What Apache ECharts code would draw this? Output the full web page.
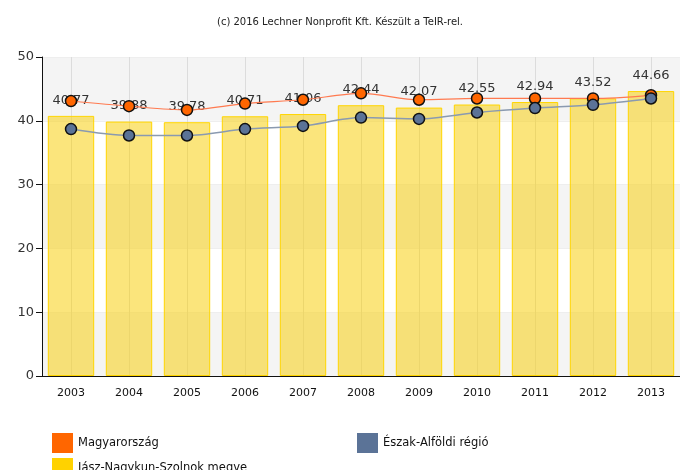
<!DOCTYPE html>
<html>
<head>
<meta charset="utf-8">
<script src="https://cdn.jsdelivr.net/npm/echarts@6/dist/echarts.min.js"></script>
<style>html,body{margin:0;padding:0;background:#fff}#c{width:680px;height:470px}</style>
</head>
<body>
<div id="c"></div>
<script>
const years = ['2003','2004','2005','2006','2007','2008','2009','2010','2011','2012','2013'];
const megye = [40.77, 39.88, 39.78, 40.71, 41.06, 42.44, 42.07, 42.55, 42.94, 43.52, 44.66];
const orszag = [43.1, 42.3, 41.7, 42.7, 43.3, 44.3, 43.3, 43.5, 43.5, 43.5, 44.0];
const regio = [38.7, 37.7, 37.7, 38.7, 39.2, 40.5, 40.3, 41.3, 42.0, 42.5, 43.5];
const yTicks = [0, 10, 20, 30, 40, 50];

const nameOrszag = 'Magyarország';
const nameRegio = 'Észak-Alföldi régió';
const nameMegye = 'Jász-Nagykun-Szolnok megye';

// half-width slots so that vertical grid lines fall on the year centres
const halfSlots = years.flatMap(y => [y + 'a', y + 'b']);

const font = 'DejaVu Sans';
const chart = echarts.init(document.getElementById('c'));
const legendBase = {
  icon: 'rect', itemWidth: 21, itemHeight: 20, itemGap: 10,
  textStyle: { fontFamily: font, fontSize: 11.5, color: '#111' }
};
const legendItem = (name, color) => ({ name, itemStyle: { color, borderWidth: 0, opacity: 1 } });
chart.setOption({
  animation: false,
  title: {
    text: '(c) 2016 Lechner Nonprofit Kft. Készült a TeIR-rel.',
    left: 'center', top: 12,
    textStyle: { fontFamily: font, fontSize: 10, fontWeight: 'normal', color: '#222' }
  },
  legend: [
    Object.assign({ data: [legendItem(nameOrszag, '#ff6600')], left: 47, top: 428 }, legendBase),
    Object.assign({ data: [legendItem(nameRegio, '#5b7397')], left: 352, top: 428 }, legendBase),
    Object.assign({ data: [legendItem(nameMegye, '#ffd200')], left: 47, top: 453 }, legendBase)
  ],
  grid: { left: 42, right: 0, top: 57, bottom: 94 },
  xAxis: [
    {
      type: 'category', data: years,
      axisLine: { lineStyle: { color: '#111', width: 1 } },
      axisTick: { alignWithLabel: true, length: 6, lineStyle: { color: '#111' } },
      axisLabel: { fontFamily: font, fontSize: 11, color: '#111', margin: 12 },
      splitLine: { show: false }
    },
    {
      type: 'category', data: halfSlots, position: 'bottom', show: true,
      axisLine: { show: false }, axisTick: { show: false }, axisLabel: { show: false },
      splitLine: { show: true, interval: (i) => i % 2 === 1, lineStyle: { color: '#dcdcdc' } }
    }
  ],
  yAxis: {
    type: 'value', min: yTicks[0], max: yTicks[yTicks.length - 1], interval: 10,
    axisLine: { show: true, lineStyle: { color: '#111', width: 1 } },
    axisTick: { show: true, length: 6, lineStyle: { color: '#111' } },
    axisLabel: { fontFamily: font, fontSize: 13, color: '#333', margin: 8 },
    splitLine: { show: true, lineStyle: { color: '#eeeeee' } },
    splitArea: { show: true, areaStyle: { color: ['#f4f4f4', '#ffffff'] } }
  },
  series: [
    {
      name: nameMegye, type: 'bar', data: megye, barWidth: '80%', z: 1,
      itemStyle: { color: 'rgba(248,210,30,0.58)', borderColor: '#ffd500', borderWidth: 1 },
      label: {
        show: true, position: 'top', distance: 9,
        fontFamily: font, fontSize: 13, color: '#333',
        formatter: p => p.value.toFixed(2)
      }
    },
    {
      name: nameOrszag, type: 'line', data: orszag, smooth: 0.3, z: 3,
      symbol: 'circle', symbolSize: 11,
      lineStyle: { color: '#ff7a50', width: 1.2 },
      itemStyle: { color: '#ff6600', borderColor: '#111', borderWidth: 1.5 }
    },
    {
      name: nameRegio, type: 'line', data: regio, smooth: 0.3, z: 4,
      symbol: 'circle', symbolSize: 11,
      lineStyle: { color: '#8a9ab0', width: 1.5 },
      itemStyle: { color: '#5b7397', borderColor: '#111', borderWidth: 1.5 }
    }
  ]
});
</script>
</body>
</html>
